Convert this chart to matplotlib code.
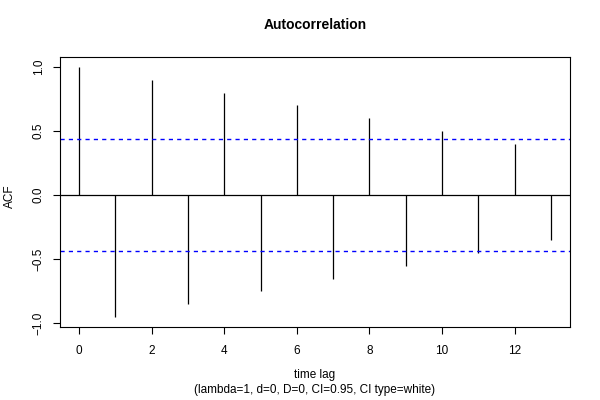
import numpy as np
import matplotlib.pyplot as plt

plt.rcParams['font.family'] = ['Liberation Sans', 'DejaVu Sans']

lags = list(range(14))
acf = [1.0, -0.95, 0.9, -0.85, 0.8, -0.75, 0.7, -0.65, 0.6, -0.55, 0.5, -0.45, 0.4, -0.35]
ci = 0.438
ytick_vals = [-1.0, -0.5, 0.0, 0.5, 1.0]
ytick_labels = ['\u22121.0', '\u22120.5', '0.0', '0.5', '1.0']

fig = plt.figure(figsize=(6, 4), dpi=100)
ax = fig.add_axes([0.1, 0.1825, 0.85, 0.675])

ax.vlines(lags, 0, acf, color='black', linewidth=0.9)
ax.axhline(0, color='black', linewidth=0.9)
ax.axhline(ci, color='#0000ff', linestyle=(0, (3, 3)), linewidth=1.0)
ax.axhline(-ci, color='#0000ff', linestyle=(0, (3, 3)), linewidth=1.0)

ax.set_xlim(-0.52, 13.52)
ax.set_ylim(-1.028, 1.078)
ax.set_xticks(range(0, 13, 2))
ax.set_yticks(ytick_vals)
ax.set_yticklabels(ytick_labels, rotation=90, va='center')
ax.tick_params(labelsize=8.5, length=5, width=0.8)
ax.tick_params(axis='x', pad=8)
ax.tick_params(axis='y', pad=6)
for s in ax.spines.values():
    s.set_linewidth(0.8)

fig.text(0.525, 0.9375, 'Autocorrelation', fontsize=10, fontweight='bold', ha='center', va='center')
fig.text(0.525, 0.0625, 'time lag', fontsize=8.5, ha='center', va='center')
fig.text(0.525, 0.025, '(lambda=1, d=0, D=0, CI=0.95, CI type=white)', fontsize=8.5,
         ha='center', va='center')
fig.text(0.0167, 0.51, 'ACF', fontsize=8.5, rotation=90, ha='center', va='center')

fig.savefig('out.png', dpi=100)
